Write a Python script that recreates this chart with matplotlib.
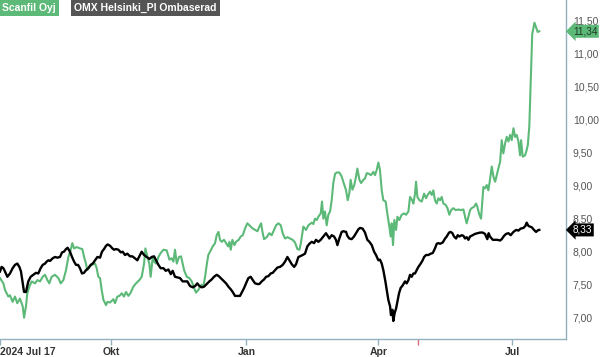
import numpy as np
import pandas as pd
import matplotlib
matplotlib.use("Agg")
import matplotlib.pyplot as plt
import matplotlib.transforms as mtransforms

plt.rcParams['font.family'] = ['Liberation Sans', 'DejaVu Sans']

# Data: days since 2024-07-17 and closing values
start = pd.Timestamp("2024-07-17")

green_day = [0, 2.3, 3.4, 5.7, 6.8, 8.6, 10.2, 11.8, 13.6, 15.5, 16.4, 17.7, 18.6, 20, 21.6, 23.9, 25.5, 27.3,
             29.1, 30.7, 32.3, 33.6, 35.2, 37.5, 39.8, 41.4, 43.2, 45, 46.6, 48.2, 49.3, 50.5, 52.3, 54.5, 56.1,
             57.3, 58.6, 59.5, 60.9, 62.5, 64.8, 65.9, 67, 68.2, 69.3, 70.5, 72.3, 73.2, 75, 77.3, 78.4, 80,
             81.4, 83, 84.5, 85.9, 87.5, 89.1, 90.9, 92.7, 95, 96.6, 98.2, 99.1, 100.5, 101.8, 102.7, 104.1,
             105, 106.4, 108, 109.5, 111.4, 113.6, 115.5, 117, 118.2, 119.3, 120.5, 122, 123.4, 124.5, 125.5,
             127.3, 129.1, 130.7, 132.3, 133.6, 135.2, 136.4, 137.5, 138.6, 139.8, 140.9, 142, 143.2, 145,
             146.6, 147.7, 148.9, 150, 151.1, 152.7, 154.1, 155.5, 156.4, 157.3, 158.4, 159.8, 160.9, 162.7,
             164.1, 165.5, 167, 168.6, 170.5, 172.3, 173.9, 175.5, 176.8, 178, 178.9, 180, 181.8, 183.6, 185.2,
             186.8, 188.2, 189.8, 191.4, 192.7, 194.3, 195.9, 197.7, 199.5, 201.1, 202.7, 204.1, 205, 206.8,
             208.6, 210.2, 212.5, 213.6, 214.7, 215.9, 217, 218.6, 219.5, 220.4, 221.5, 222.7, 223.8, 225,
             226.1, 227.2, 228.4, 229.5, 231.3, 232.9, 234, 235.9, 237, 238.1, 239, 240.2, 241.5, 242.7, 243.6,
             245, 246.1, 247.7, 248.8, 250, 251.5, 252.9, 254.5, 255.6, 256.8, 257.9, 259, 260.2, 261.3, 262.9,
             264, 265.4, 266.3, 267, 267.9, 268.8, 270, 270.9, 272.2, 273.8, 275.4, 276.8, 278.4, 279.5, 280.9,
             281.8, 282.9, 283.6, 284.5, 285.9, 287.5, 289.1, 290.4, 291.5, 293.1, 294.3, 295.4, 296.5, 297.7,
             298.8, 300, 301.1, 302.2, 303.8, 305, 306.3, 307.5, 309, 310.6, 312.5, 314, 315.9, 317, 318.1,
             319.3, 320.4, 321.5, 323.1, 324.5, 325.4, 326.5, 327.9, 328.8, 329.5, 330.6, 331.8, 332.9, 334,
             335.2, 336.3, 337.5, 338.6, 339.7, 340.9, 342, 343.1, 344.3, 345.4, 346.6, 347.7, 348.8, 350,
             351.1, 352.2, 353.4, 354.5, 355.2, 356.3, 357.9, 359, 359.8, 360.8, 361.8, 362.8, 364.3, 365.4,
             366.5, 367.6]
green_val = [7.60, 7.52, 7.42, 7.32, 7.34, 7.24, 7.32, 7.22, 7.29, 7.17, 7.00, 7.17, 7.37, 7.47, 7.55, 7.52, 7.57,
             7.55, 7.62, 7.65, 7.57, 7.52, 7.62, 7.65, 7.60, 7.52, 7.57, 7.72, 7.92, 8.03, 8.13, 8.05, 8.07,
             8.05, 8.04, 7.92, 7.82, 7.72, 7.77, 7.80, 7.82, 7.75, 7.62, 7.60, 7.42, 7.27, 7.19, 7.24, 7.23,
             7.28, 7.22, 7.32, 7.33, 7.37, 7.32, 7.39, 7.33, 7.38, 7.47, 7.52, 7.57, 7.62, 7.82, 8.05, 7.92,
             7.82, 7.62, 7.92, 7.85, 7.82, 7.92, 7.98, 8.03, 8.02, 7.88, 7.90, 7.85, 8.03, 7.82, 7.92, 7.93,
             7.82, 7.72, 7.62, 7.60, 7.55, 7.45, 7.38, 7.42, 7.47, 7.50, 7.47, 7.62, 7.80, 7.95, 8.00, 8.08,
             8.13, 8.25, 8.30, 8.18, 8.15, 8.18, 8.13, 8.08, 8.15, 8.03, 8.18, 8.10, 8.15, 8.18, 8.23, 8.25,
             8.35, 8.43, 8.39, 8.35, 8.33, 8.31, 8.38, 8.43, 8.30, 8.19, 8.22, 8.28, 8.25, 8.33, 8.40, 8.43,
             8.40, 8.28, 8.20, 8.22, 8.20, 8.18, 8.14, 8.04, 8.03, 8.12, 8.38, 8.33, 8.40, 8.44, 8.42, 8.50,
             8.48, 8.53, 8.58, 8.76, 8.50, 8.61, 8.40, 8.56, 8.61, 8.78, 9.04, 9.18, 9.20, 9.20, 9.14, 9.06,
             8.93, 8.78, 8.88, 9.09, 8.94, 9.01, 9.14, 9.26, 9.09, 9.04, 9.09, 9.11, 9.19, 9.18, 9.16, 9.21,
             9.16, 9.24, 9.35, 9.24, 8.93, 8.78, 8.76, 8.58, 8.38, 8.23, 8.43, 8.10, 8.48, 8.33, 8.53, 8.48,
             8.56, 8.58, 8.56, 8.61, 8.83, 8.78, 8.73, 8.88, 9.06, 8.83, 8.78, 8.76, 8.88, 8.81, 8.86, 8.91,
             8.86, 8.93, 8.78, 8.73, 8.81, 8.78, 8.83, 8.73, 8.71, 8.66, 8.56, 8.63, 8.66, 8.63, 8.64, 8.63,
             8.64, 8.53, 8.43, 8.53, 8.63, 8.66, 8.68, 8.73, 8.68, 8.58, 8.50, 8.78, 8.98, 8.96, 9.01, 8.93,
             9.09, 9.29, 9.14, 9.06, 9.16, 9.26, 9.36, 9.69, 9.49, 9.64, 9.74, 9.67, 9.77, 9.69, 9.87, 9.74,
             9.77, 9.67, 9.46, 9.69, 9.44, 9.46, 9.54, 9.62, 9.90, 10.60, 11.30, 11.47, 11.40, 11.33, 11.34]

omx_day = [0, 1.1, 2.3, 3.4, 5, 6.8, 8.6, 10.2, 11.8, 13.2, 14.3, 15.5, 16.4, 17.7, 19.3, 20.9, 22.7, 24.5, 26.1,
           27.7, 29.1, 30.7, 31.8, 33, 34.1, 35.9, 37.5, 39.1, 40.9, 42.3, 43.6, 45, 46.1, 47.7, 49.1, 50.5,
           51.8, 53.2, 54.5, 55.9, 57.3, 58.6, 60.2, 61.8, 63.2, 64.8, 66.4, 68.2, 69.5, 70.9, 72.3, 73.4, 75,
           76.6, 77.7, 79.1, 80.7, 82.3, 83.6, 85.2, 86.8, 88.6, 90.2, 92, 93.6, 95, 96.6, 98.2, 100, 101.8,
           103.4, 105, 106.4, 108, 109.5, 111.4, 113, 114.8, 116.4, 117.7, 119.3, 120.9, 122.7, 124.5, 126.1,
           127.7, 129.5, 131.4, 133, 134.5, 135.9, 137.5, 139.1, 140.9, 142.7, 144.3, 145.9, 147.7, 149.1,
           150.5, 152.3, 154.1, 155.7, 157.3, 158.6, 160.2, 161.8, 163.6, 165, 166.4, 167.7, 169.3, 170.9,
           172.3, 173.9, 175.5, 176.8, 178.4, 180, 181.4, 183, 184.5, 185.9, 187.5, 189.1, 190.9, 192.7,
           194.3, 195.9, 197.3, 198.9, 200.5, 201.8, 203.4, 204.5, 206.3, 207.9, 209.5, 210.9, 212.5, 214.1,
           215.4, 217, 218.6, 220.4, 222.2, 223.1, 224.5, 226.1, 227.7, 229, 230, 231.3, 232.9, 234, 235.9,
           236.8, 238.1, 239.7, 241.3, 242.7, 244.3, 245.4, 247.2, 248.8, 250.4, 251.8, 253.4, 255, 256.3,
           257.9, 259, 260.2, 261.3, 262.7, 263.6, 264.7, 265.9, 266.5, 267.5, 268.1, 269, 270, 270.9, 272,
           273.1, 274.5, 276.1, 277.2, 278.4, 279.5, 280.6, 281.8, 282.9, 284, 285.2, 286.8, 288.1, 289.1,
           290.4, 292, 293.6, 295, 296.5, 297.7, 298.8, 300, 301.8, 303.4, 304.5, 306.1, 307.2, 308.4, 309.5,
           310.9, 312, 313.1, 314.7, 315.9, 317, 318.1, 319.3, 320.4, 322.2, 323.8, 325.4, 327.2, 329, 330.6,
           332.2, 333.1, 334, 335.9, 337.5, 339, 340.9, 342, 343.6, 345, 346.6, 348.1, 350, 351.8, 353.4,
           354.9, 356.8, 358.1, 359, 360.2, 361.3, 362.5, 364, 365.4, 367, 367.6]
omx_val = [7.70, 7.77, 7.75, 7.70, 7.62, 7.67, 7.75, 7.80, 7.82, 7.77, 7.70, 7.52, 7.39, 7.39, 7.55, 7.62, 7.65,
           7.68, 7.67, 7.75, 7.80, 7.82, 7.85, 7.87, 7.86, 7.90, 7.92, 7.91, 7.92, 7.99, 8.00, 8.04, 8.06,
           8.00, 7.92, 7.85, 7.80, 7.80, 7.75, 7.67, 7.68, 7.72, 7.75, 7.80, 7.82, 7.87, 7.92, 7.91, 8.00,
           8.04, 8.09, 8.11, 8.09, 8.05, 8.03, 8.04, 8.03, 7.99, 8.00, 7.95, 7.97, 7.93, 7.93, 7.90, 7.87,
           7.93, 8.00, 7.95, 7.92, 7.89, 7.92, 7.93, 7.87, 7.80, 7.75, 7.75, 7.71, 7.73, 7.66, 7.71, 7.62,
           7.61, 7.60, 7.55, 7.55, 7.55, 7.48, 7.46, 7.48, 7.52, 7.48, 7.46, 7.47, 7.51, 7.55, 7.58, 7.62,
           7.65, 7.63, 7.60, 7.56, 7.52, 7.47, 7.43, 7.39, 7.33, 7.33, 7.33, 7.39, 7.45, 7.52, 7.60, 7.62,
           7.57, 7.52, 7.51, 7.51, 7.55, 7.58, 7.62, 7.63, 7.67, 7.68, 7.72, 7.76, 7.77, 7.80, 7.85, 7.92,
           7.87, 7.81, 7.77, 7.81, 7.92, 7.93, 7.95, 7.97, 8.08, 8.12, 8.15, 8.13, 8.18, 8.15, 8.18, 8.23,
           8.28, 8.25, 8.20, 8.25, 8.23, 8.18, 8.10, 8.20, 8.30, 8.31, 8.30, 8.24, 8.20, 8.19, 8.23, 8.28,
           8.34, 8.36, 8.35, 8.29, 8.18, 8.15, 8.10, 8.00, 7.95, 7.87, 7.88, 7.82, 7.72, 7.55, 7.42, 7.27,
           7.17, 7.04, 7.12, 6.95, 7.07, 7.14, 7.24, 7.37, 7.45, 7.49, 7.55, 7.52, 7.57, 7.65, 7.62, 7.67,
           7.67, 7.72, 7.77, 7.82, 7.87, 7.92, 7.95, 7.95, 7.97, 7.98, 8.05, 8.12, 8.13, 8.12, 8.14, 8.20,
           8.23, 8.29, 8.30, 8.28, 8.23, 8.20, 8.25, 8.23, 8.25, 8.24, 8.20, 8.22, 8.18, 8.23, 8.25, 8.27,
           8.28, 8.29, 8.29, 8.27, 8.19, 8.28, 8.23, 8.18, 8.18, 8.18, 8.17, 8.19, 8.24, 8.27, 8.28, 8.25,
           8.30, 8.33, 8.32, 8.35, 8.36, 8.39, 8.44, 8.39, 8.38, 8.37, 8.33, 8.30, 8.33, 8.33]

y_ticks = [7.0, 7.5, 8.0, 8.5, 9.0, 9.5, 10.0, 10.5, 11.0, 11.5]
x_ticks = ["2024-07-17", "2024-10-01", "2025-01-01", "2025-04-01", "2025-07-01"]
x_labels = ["2024 Jul 17", "Okt", "Jan", "Apr", "Jul"]
event_dates = ["2025-04-28"]
series_names = ["Scanfil Oyj", "OMX Helsinki_PI Ombaserad"]
last_green = 11.34
last_omx = 8.33

green_c = "#5cb978"
axis_c = "#93b1bd"

green_dates = start + pd.to_timedelta(green_day, unit="D")
omx_dates = start + pd.to_timedelta(omx_day, unit="D")

fig = plt.figure(figsize=(6, 3.57), dpi=100)
ax = fig.add_axes([0, 0.0504, 0.9433, 0.9496])

ax.plot(omx_dates, omx_val, color="black", lw=1.7, zorder=3)
ax.plot(green_dates, green_val, color=green_c, lw=1.5, zorder=2)

ax.set_xlim(start, start + pd.Timedelta(days=385.8))
ax.set_ylim(6.677, 11.814)

for s in ["left", "top"]:
    ax.spines[s].set_visible(False)
for s in ["right", "bottom"]:
    ax.spines[s].set_color(axis_c)
    ax.spines[s].set_linewidth(1.0)

# y axis on the right
ax.yaxis.tick_right()
ax.set_yticks(y_ticks)
ax.set_yticklabels([f"{v:.2f}".replace(".", ",") for v in y_ticks])
ax.tick_params(axis="y", length=0, pad=5, labelsize=7.5, labelcolor="#555555")

# x axis
ax.set_xticks(pd.to_datetime(x_ticks))
ax.set_xticklabels(x_labels)
ax.tick_params(axis="x", which="major", length=4, width=1, color=axis_c, pad=2,
               labelsize=7.5, labelcolor="#333333")
for lbl in ax.get_xticklabels():
    lbl.set_fontweight("bold")
ax.get_xticklabels()[0].set_horizontalalignment("left")
ax.set_xticks(pd.to_datetime(event_dates), minor=True)
ax.tick_params(axis="x", which="minor", length=4, width=1, color="#e06a78")

# legend boxes
fig.text(0.004, 0.978, series_names[0], color="white", fontsize=7.5, fontweight="bold",
         va="center", ha="left",
         bbox=dict(boxstyle="square,pad=0.3", fc=green_c, ec="none"))
fig.text(0.124, 0.978, series_names[1], color="white", fontsize=7.5, fontweight="bold",
         va="center", ha="left",
         bbox=dict(boxstyle="square,pad=0.3", fc="#555555", ec="none"))

# last value tags
trans = mtransforms.blended_transform_factory(ax.transAxes, ax.transData)
ax.text(1.012, last_green, f"{last_green:.2f}".replace(".", ","), transform=trans,
        color="#1f3a26", fontsize=7.2, va="center", ha="left", clip_on=False, zorder=5,
        bbox=dict(boxstyle="larrow,pad=0.15", fc=green_c, ec="none"))
ax.text(1.012, last_omx, f"{last_omx:.2f}".replace(".", ","), transform=trans,
        color="white", fontsize=7.2, va="center", ha="left", clip_on=False, zorder=5,
        bbox=dict(boxstyle="larrow,pad=0.15", fc="black", ec="none"))

fig.savefig("out.png", dpi=100)
